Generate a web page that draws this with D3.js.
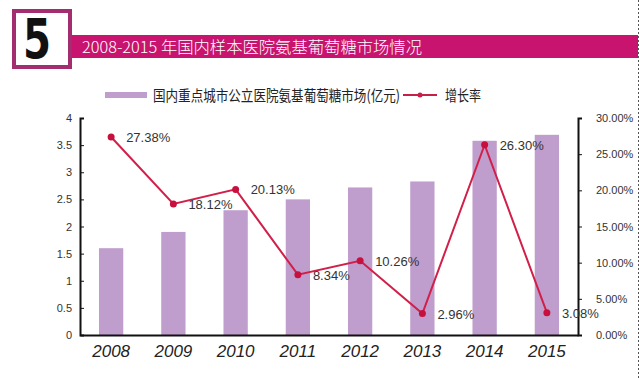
<!DOCTYPE html>
<html><head><meta charset="utf-8">
<script src="https://cdn.jsdelivr.net/npm/d3@7"></script>
<style>
html,body{margin:0;padding:0;background:#fff;}
svg{display:block;}
</style></head>
<body>
<svg id="c" width="640" height="378"></svg>
<script>
const years = ["2008","2009","2010","2011","2012","2013","2014","2015"];
const market = [1.6, 1.9, 2.3, 2.5, 2.72, 2.83, 3.58, 3.69];
const growth = [27.38, 18.12, 20.13, 8.34, 10.26, 2.96, 26.30, 3.08];
const growthLabels = ["27.38%","18.12%","20.13%","8.34%","10.26%","2.96%","26.30%","3.08%"];
const leftTicks = [0,0.5,1,1.5,2,2.5,3,3.5,4];
const rightTicks = [0,5,10,15,20,25,30];
const title = "2008-2015 年国内样本医院氨基葡萄糖市场情况";
const legendBar = "国内重点城市公立医院氨基葡萄糖市场(亿元)";
const legendLine = "增长率";

const svg = d3.select("#c");
const font = "'Liberation Sans', Arial, 'Noto Sans CJK SC', sans-serif";
const cjk = "'Noto Sans CJK SC', sans-serif";

// header
svg.append("rect").attr("x",71).attr("y",35).attr("width",567).attr("height",23).attr("fill","#c8136f");
svg.append("rect").attr("x",14).attr("y",11).attr("width",56).attr("height",56).attr("fill","#fff").attr("stroke","#a42d70").attr("stroke-width",4);
svg.append("text").attr("x",37).attr("y",58).attr("text-anchor","middle")
  .attr("font-family","'DejaVu Sans', sans-serif").attr("font-weight","900").attr("font-size",56)
  .attr("transform","translate(37,0) scale(0.72,1) translate(-37,0)")
  .attr("fill","#111").text("5");
svg.append("text").attr("x",82).attr("y",53).attr("font-family",cjk).attr("font-size",16)
  .attr("font-weight",300).attr("textLength",340).attr("lengthAdjust","spacingAndGlyphs")
  .attr("fill","#fff").text(title);
svg.append("line").attr("x1",638.5).attr("x2",638.5).attr("y1",0).attr("y2",378)
  .attr("stroke","#555").attr("stroke-dasharray","2,2").attr("stroke-width",1);

// scales
const x = d3.scaleBand().domain(years).range([80,578]).paddingInner(0.61).paddingOuter(0.305);
const yL = d3.scaleLinear().domain([0,4]).range([335,118]);
const yR = d3.scaleLinear().domain([0,30]).range([335,118]);

// legend
svg.append("rect").attr("x",105).attr("y",92).attr("width",42).attr("height",6).attr("fill","#bf9dcc");
svg.append("text").attr("x",153).attr("y",101).attr("font-family",cjk).attr("font-size",15)
  .attr("textLength",247).attr("lengthAdjust","spacingAndGlyphs").attr("fill","#222").text(legendBar);
svg.append("line").attr("x1",403).attr("x2",437).attr("y1",95).attr("y2",95).attr("stroke","#c81f48").attr("stroke-width",2);
svg.append("circle").attr("cx",420).attr("cy",95).attr("r",2.5).attr("fill","#c81f48");
svg.append("text").attr("x",445).attr("y",101).attr("font-family",cjk).attr("font-size",15)
  .attr("textLength",36).attr("lengthAdjust","spacingAndGlyphs").attr("fill","#222").text(legendLine);

// bars
svg.append("g").selectAll("rect").data(years).join("rect")
  .attr("x",d=>x(d)).attr("width",x.bandwidth())
  .attr("y",(d,i)=>yL(market[i])).attr("height",(d,i)=>yL(0)-yL(market[i]))
  .attr("fill","#bf9dcc");

// axes
const gL = svg.append("g").attr("transform","translate(80,0)")
  .call(d3.axisRight(yL).tickValues(leftTicks).tickSize(4).tickFormat(d3.format("")));
gL.select(".domain").attr("stroke","#111").attr("stroke-width",2);
gL.selectAll(".tick line").attr("stroke","#111");
gL.selectAll(".tick text").attr("x",-8).attr("text-anchor","end")
  .attr("font-family",font).attr("font-size",11).attr("fill","#333");

const gR = svg.append("g").attr("transform","translate(578,0)")
  .call(d3.axisRight(yR).tickValues(rightTicks).tickSize(4).tickFormat(d=>d.toFixed(2)+"%"));
gR.select(".domain").attr("stroke","#111").attr("stroke-width",2);
gR.selectAll(".tick line").attr("stroke","#111");
gR.selectAll(".tick text").attr("x",18).attr("text-anchor","start")
  .attr("font-family",font).attr("font-size",11).attr("fill","#333");

const gB = svg.append("g").attr("transform","translate(0,335)")
  .call(d3.axisBottom(x).tickSize(0).tickPadding(10));
gB.select(".domain").attr("stroke","#111").attr("stroke-width",2);
gB.selectAll(".tick text").attr("font-family",font).attr("font-size",17)
  .attr("font-style","italic").attr("fill","#222");

// growth line
const cx = (d,i)=>x(years[i])+x.bandwidth()/2;
svg.append("path").datum(growth)
  .attr("d", d3.line().x(cx).y(d=>yR(d)))
  .attr("fill","none").attr("stroke","#d11f4a").attr("stroke-width",2);
svg.append("g").selectAll("circle").data(growth).join("circle")
  .attr("cx",cx).attr("cy",d=>yR(d)).attr("r",3.5).attr("fill","#c8103e");
svg.append("g").selectAll("text").data(growth).join("text")
  .attr("x",(d,i)=>cx(d,i)+15).attr("y",d=>yR(d)+5)
  .attr("font-family",font).attr("font-size",13).attr("fill","#333")
  .text((d,i)=>growthLabels[i]);
</script>
</body></html>
